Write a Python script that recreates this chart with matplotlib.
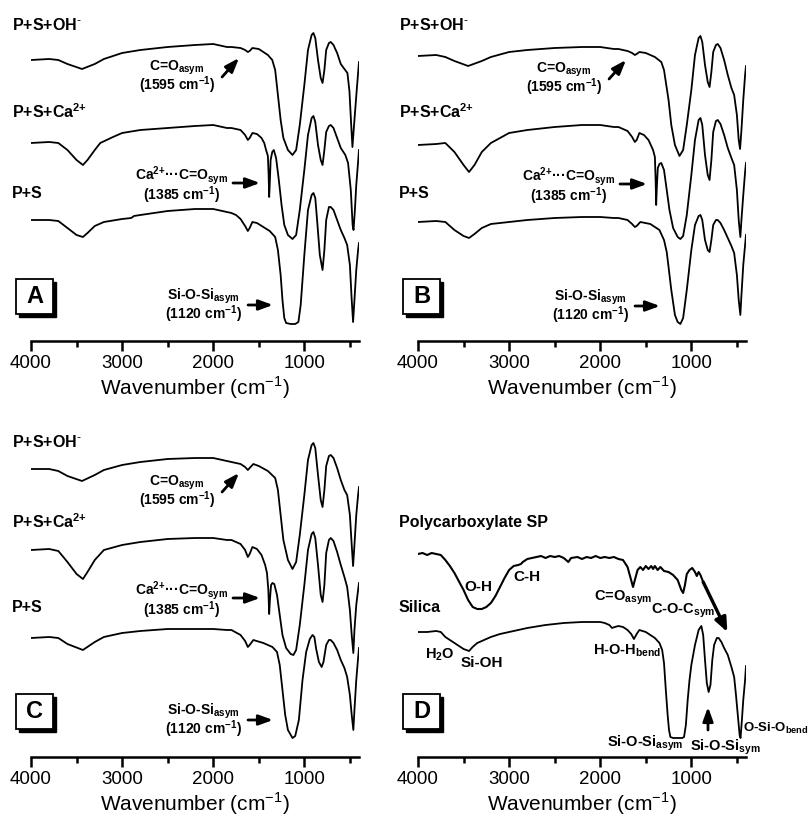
import numpy as np
import matplotlib
matplotlib.use("Agg")
import matplotlib.pyplot as plt
from matplotlib.patches import Rectangle
from matplotlib.ticker import FixedLocator

plt.rcParams['font.family'] = ['Liberation Sans', 'DejaVu Sans']

W, H = 811, 819

# FTIR spectra: (wavenumber cm-1, transmittance in arbitrary stacked units)
A_OH = [(4000, 281), (3800, 282), (3700, 281), (3600, 277), (3440, 272), (3300, 277), (3200, 282),
        (3000, 288), (2800, 291), (2500, 294), (2200, 296), (2000, 297), (1850, 294), (1800, 294),
        (1700, 293), (1650, 291), (1620, 289), (1600, 290), (1570, 293), (1500, 292), (1400, 286),
        (1352, 281), (1320, 271), (1290, 246), (1260, 221), (1230, 203), (1180, 191), (1130, 186),
        (1090, 191), (1050, 216), (1000, 256), (960, 291), (920, 306), (900, 308), (880, 303),
        (850, 281), (820, 263), (800, 258), (780, 271), (760, 291), (730, 298), (710, 299),
        (680, 296), (640, 288), (600, 277), (560, 272), (527, 268), (505, 250), (485, 215),
        (472, 194), (455, 215), (430, 245), (410, 268), (400, 279)]
A_CA = [(4000, 198), (3800, 199), (3700, 198), (3600, 191), (3500, 181), (3430, 176), (3380, 181),
        (3300, 191), (3240, 198), (3100, 204), (3000, 208), (2800, 211), (2500, 213), (2200, 215),
        (2000, 216), (1850, 213), (1800, 213), (1700, 211), (1650, 206), (1620, 201), (1600, 203),
        (1570, 208), (1520, 207), (1470, 203), (1440, 198), (1420, 191), (1400, 185), (1392, 166),
        (1386, 144), (1380, 156), (1370, 181), (1352, 189), (1335, 191), (1310, 183), (1280, 161),
        (1250, 136), (1220, 116), (1180, 106), (1130, 102), (1090, 106), (1050, 131), (1000, 171),
        (960, 206), (920, 223), (900, 225), (880, 219), (850, 196), (820, 181), (800, 176),
        (780, 191), (760, 209), (730, 215), (710, 216), (680, 213), (640, 203), (600, 193),
        (550, 186), (520, 178), (490, 151), (470, 116), (460, 111), (445, 131), (430, 156),
        (410, 179), (400, 191)]
A_PS = [(4000, 121), (3800, 121), (3700, 120), (3600, 113), (3500, 106), (3430, 104), (3380, 108),
        (3300, 115), (3200, 119), (3000, 122), (2900, 123), (2870, 125), (2800, 126), (2500, 130),
        (2200, 132), (2000, 132), (1850, 129), (1800, 128), (1750, 126), (1700, 122), (1650, 115),
        (1620, 110), (1600, 113), (1570, 119), (1520, 118), (1450, 114), (1380, 110), (1320, 104),
        (1290, 91), (1260, 66), (1240, 41), (1220, 23), (1200, 18), (1150, 17), (1100, 17),
        (1065, 19), (1040, 36), (1000, 86), (960, 131), (920, 146), (900, 148), (880, 143),
        (860, 121), (830, 86), (800, 71), (780, 91), (760, 121), (730, 134), (710, 134),
        (680, 131), (640, 121), (600, 111), (560, 103), (530, 96), (500, 76), (480, 41),
        (465, 19), (450, 41), (430, 71), (410, 91), (400, 98)]

B_OH = [(4000, 285), (3800, 286), (3700, 284), (3600, 280), (3450, 275), (3300, 280), (3200, 284),
        (3000, 289), (2800, 291), (2500, 293), (2200, 294), (2000, 294), (1850, 292), (1800, 292),
        (1700, 290), (1650, 288), (1620, 286), (1600, 287), (1570, 289), (1500, 288), (1400, 284),
        (1330, 279), (1300, 271), (1270, 253), (1250, 241), (1220, 216), (1180, 196), (1130, 185),
        (1090, 191), (1050, 216), (1000, 251), (960, 286), (920, 303), (900, 305), (880, 299),
        (850, 276), (820, 259), (800, 254), (780, 269), (760, 289), (730, 296), (710, 297),
        (680, 293), (640, 281), (600, 266), (560, 253), (530, 246), (500, 226), (480, 201),
        (465, 192), (450, 211), (430, 241), (410, 266), (400, 275)]
B_CA = [(4000, 196), (3800, 197), (3700, 198), (3600, 189), (3500, 176), (3440, 169), (3380, 176),
        (3300, 189), (3200, 198), (3000, 208), (2800, 211), (2500, 214), (2200, 216), (2000, 216),
        (1850, 214), (1800, 214), (1700, 210), (1650, 204), (1620, 199), (1600, 201), (1570, 208),
        (1520, 206), (1470, 201), (1420, 191), (1400, 184), (1392, 161), (1386, 136), (1380, 151),
        (1368, 173), (1350, 177), (1330, 178), (1300, 171), (1270, 151), (1240, 131), (1200, 113),
        (1150, 104), (1120, 102), (1090, 105), (1050, 126), (1000, 166), (960, 201), (920, 221),
        (900, 223), (880, 216), (850, 186), (820, 166), (800, 161), (780, 181), (760, 209),
        (730, 220), (710, 221), (680, 217), (640, 206), (600, 193), (560, 183), (530, 176),
        (500, 151), (480, 121), (462, 104), (450, 121), (430, 146), (410, 169), (400, 178)]
B_PS = [(4000, 119), (3800, 120), (3700, 119), (3600, 111), (3500, 105), (3440, 103), (3380, 107),
        (3300, 113), (3200, 117), (3000, 119), (2800, 121), (2500, 123), (2200, 124), (2000, 124),
        (1850, 123), (1800, 123), (1700, 121), (1650, 117), (1620, 114), (1600, 115), (1560, 119),
        (1450, 117), (1350, 111), (1300, 101), (1270, 89), (1250, 74), (1220, 51), (1180, 26),
        (1150, 19), (1120, 17), (1090, 23), (1050, 51), (1000, 91), (960, 116), (920, 125),
        (900, 126), (880, 121), (850, 101), (820, 91), (800, 89), (780, 101), (760, 116),
        (730, 121), (710, 121), (680, 118), (640, 111), (600, 103), (560, 95), (530, 88),
        (500, 66), (480, 41), (462, 26), (450, 46), (430, 76), (410, 96), (400, 106)]

C_OH = [(4000, 288), (3800, 288), (3700, 286), (3600, 281), (3440, 276), (3300, 282), (3200, 287),
        (3000, 292), (2800, 295), (2500, 298), (2200, 299), (2000, 299), (1850, 296), (1800, 295),
        (1700, 293), (1650, 290), (1620, 287), (1600, 289), (1560, 293), (1500, 291), (1400, 286),
        (1320, 279), (1290, 267), (1260, 242), (1230, 217), (1180, 197), (1130, 188), (1090, 195),
        (1050, 222), (1000, 262), (960, 297), (920, 312), (900, 314), (880, 309), (850, 282),
        (820, 257), (800, 250), (780, 267), (760, 291), (730, 301), (710, 302), (680, 299),
        (640, 289), (600, 277), (560, 267), (530, 262), (500, 242), (480, 212), (465, 191),
        (450, 212), (430, 242), (410, 262), (400, 270)]
C_CA = [(4000, 207), (3800, 208), (3700, 206), (3600, 195), (3500, 183), (3430, 178), (3380, 185),
        (3300, 197), (3200, 207), (3000, 212), (2800, 215), (2500, 218), (2200, 219), (2000, 219),
        (1850, 217), (1800, 217), (1700, 213), (1650, 207), (1620, 200), (1600, 203), (1570, 210),
        (1520, 208), (1470, 202), (1430, 192), (1410, 184), (1395, 167), (1386, 143), (1378, 157),
        (1365, 172), (1350, 174), (1330, 173), (1300, 162), (1270, 142), (1240, 122), (1200, 109),
        (1150, 103), (1120, 102), (1090, 107), (1050, 132), (1000, 172), (960, 207), (920, 223),
        (900, 225), (880, 219), (850, 192), (820, 162), (800, 155), (780, 172), (760, 204),
        (730, 217), (710, 219), (680, 216), (640, 205), (600, 192), (560, 180), (530, 170),
        (500, 147), (480, 122), (462, 104), (450, 127), (430, 152), (410, 167), (400, 174)]
C_PS = [(4000, 119), (3800, 120), (3700, 119), (3600, 113), (3430, 107), (3300, 115), (3200, 120),
        (3000, 124), (2800, 126), (2500, 128), (2200, 128), (2000, 128), (1850, 127), (1800, 127),
        (1700, 122), (1650, 116), (1620, 110), (1600, 112), (1560, 117), (1450, 114), (1350, 110),
        (1300, 105), (1270, 92), (1240, 67), (1210, 42), (1180, 27), (1130, 19), (1100, 21),
        (1060, 37), (1020, 77), (980, 105), (940, 118), (910, 122), (890, 120), (870, 108),
        (840, 95), (810, 90), (790, 95), (760, 112), (730, 117), (710, 117), (680, 114),
        (640, 107), (600, 97), (560, 89), (530, 80), (500, 62), (480, 42), (462, 27), (450, 47),
        (430, 77), (410, 99), (400, 109)]

D_SP = [(4000, 203), (3950, 204), (3900, 202), (3850, 204), (3800, 203), (3750, 202), (3700, 197),
        (3650, 191), (3600, 184), (3500, 167), (3450, 157), (3400, 150), (3350, 148), (3300, 148),
        (3250, 150), (3200, 154), (3150, 161), (3100, 170), (3050, 179), (3000, 187), (2950, 191),
        (2900, 192), (2870, 193), (2850, 195), (2800, 198), (2750, 199), (2700, 200), (2650, 201),
        (2600, 199), (2550, 201), (2500, 200), (2450, 201), (2400, 199), (2350, 195), (2320, 199),
        (2250, 200), (2200, 198), (2150, 200), (2100, 199), (2050, 201), (2000, 199), (1950, 200),
        (1900, 199), (1850, 200), (1800, 198), (1750, 197), (1700, 190), (1670, 180), (1640, 170),
        (1620, 177), (1590, 187), (1560, 190), (1530, 187), (1500, 191), (1470, 188), (1440, 191),
        (1420, 188), (1400, 191), (1370, 187), (1340, 190), (1300, 186), (1250, 185), (1200, 182),
        (1150, 177), (1110, 167), (1090, 164), (1070, 172), (1050, 183), (1020, 187), (990, 189),
        (960, 185), (940, 181), (920, 185), (900, 182), (870, 175)]
D_SI = [(4000, 125), (3900, 125), (3800, 126), (3750, 125), (3700, 120), (3650, 117), (3600, 114),
        (3550, 111), (3500, 108), (3440, 106), (3400, 110), (3350, 114), (3300, 116), (3200, 120),
        (3100, 123), (3000, 125), (2800, 129), (2600, 132), (2400, 134), (2200, 135), (2000, 135),
        (1950, 134), (1900, 132), (1870, 129), (1840, 130), (1800, 131), (1750, 130), (1700, 127),
        (1660, 123), (1630, 118), (1600, 123), (1570, 127), (1500, 125), (1450, 122), (1400, 119),
        (1350, 114), (1320, 107), (1300, 94), (1280, 67), (1260, 42), (1245, 27), (1230, 20),
        (1200, 19), (1150, 19), (1100, 19), (1080, 20), (1060, 32), (1040, 57), (1020, 77),
        (1000, 92), (960, 112), (920, 127), (890, 131), (870, 122), (850, 97), (830, 74),
        (810, 65), (790, 72), (770, 97), (750, 112), (720, 119), (700, 119), (670, 115),
        (640, 109), (600, 102), (560, 90), (530, 80), (510, 62), (490, 42), (470, 22),
        (460, 19), (445, 37), (430, 57), (410, 77), (400, 91)]
D_SP_TAIL = [(870, 175), (605, 125)]

SAMPLE_LABELS = [r"P+S+OH$^{\text{-}}$", r"P+S+Ca$^{\mathregular{2{+}}}$", "P+S"]
PEAK_NOTES = [r"C=O$_{\mathregular{asym}}$" + "\n" + r"(1595 cm$^{\mathregular{-1}}$)",
              "Ca$^{\\mathregular{2{+}}}$\u00b7\u00b7\u00b7C=O$_{\\mathregular{sym}}$" + "\n"
              + r"(1385 cm$^{\mathregular{-1}}$)",
              r"Si-O-Si$_{\mathregular{asym}}$" + "\n" + r"(1120 cm$^{\mathregular{-1}}$)"]
MAJOR_TICKS = [4000, 3000, 2000, 1000]
MINOR_TICKS = [3500, 2500, 1500, 500]

fig = plt.figure(figsize=(W / 100, H / 100), dpi=100)


def make_axes(left, top, bottom):
    ax = fig.add_axes([left / W, 1 - bottom / H, 328 / W, (bottom - top) / H])
    ax.patch.set_alpha(0)
    ax.set_xlim(4000, 400)
    ax.set_ylim(0, bottom - top)
    for s in ['left', 'right', 'top']:
        ax.spines[s].set_visible(False)
    ax.spines['bottom'].set_linewidth(1.8)
    ax.set_yticks([])
    ax.xaxis.set_major_locator(FixedLocator(MAJOR_TICKS))
    ax.xaxis.set_minor_locator(FixedLocator(MINOR_TICKS))
    ax.tick_params(axis='x', which='major', direction='out', length=7, width=1.8,
                   labelsize=13.5, pad=3)
    ax.tick_params(axis='x', which='minor', direction='out', length=4, width=1.8)
    ax.set_xlabel(r"Wavenumber (cm$^{\mathregular{-1}}$)", fontsize=15, labelpad=2)
    return ax


def spectrum(ax, pts, lw=1.3):
    arr = np.array(pts, dtype=float)
    ax.plot(arr[:, 0], arr[:, 1], color='k', lw=lw, solid_joinstyle='round')


def arrow(ax, tail, head):
    ax.annotate("", xy=head, xytext=tail,
                arrowprops=dict(arrowstyle='-|>,head_length=0.6,head_width=0.22', lw=2,
                                color='k', mutation_scale=14, shrinkA=0, shrinkB=0))


def note(ax, x, y, s, size=10, ha='center', ls=0.85):
    ax.text(x, y, s, ha=ha, va='center', fontsize=size, fontweight='bold',
            multialignment='center', linespacing=ls)


def panel_box(letter, x, y):
    w, h = 37, 35
    fig.add_artist(Rectangle(((x + 3) / W, 1 - (y + h + 3) / H), w / W, h / H,
                             transform=fig.transFigure, fc='k', ec='k', lw=1))
    fig.add_artist(Rectangle((x / W, 1 - (y + h) / H), w / W, h / H,
                             transform=fig.transFigure, fc='w', ec='k', lw=1.3))
    fig.text((x + w / 2) / W, 1 - (y + h / 2) / H, letter, ha='center', va='center',
             fontsize=17, fontweight='bold')


def triple_panel(ax, spectra, label_y, ann_y):
    for pts in spectra:
        spectrum(ax, pts)
    for lab, yy in zip(SAMPLE_LABELS, label_y):
        note(ax, 4209, yy, lab, size=11.5, ha='left')
    y1, y2, y3 = ann_y
    note(ax, 2397, y1 - 8, PEAK_NOTES[0])
    arrow(ax, (1903, y1 - 8), (1717, y1 + 11))
    note(ax, 2345, y2 - 8, PEAK_NOTES[1])
    arrow(ax, (1783, y2 - 6), (1486, y2 - 6))
    note(ax, 2112, y3 - 8, PEAK_NOTES[2])
    arrow(ax, (1618, y3 - 7), (1344, y3 - 7))


axA = make_axes(31, 0, 341)
triple_panel(axA, [A_OH, A_CA, A_PS], [316, 229, 148], [272, 164, 43])
axB = make_axes(418, 0, 341)
triple_panel(axB, [B_OH, B_CA, B_PS], [316, 229, 148], [270, 163, 42])
axC = make_axes(31, 410, 757)
triple_panel(axC, [C_OH, C_CA, C_PS], [315, 235, 149], [273, 165, 44])

axD = make_axes(418, 410, 757)
spectrum(axD, D_SP, lw=1.5)
spectrum(axD, D_SI)
tail = np.array(D_SP_TAIL, dtype=float)
axD.annotate("", xy=tail[1], xytext=tail[0],
             arrowprops=dict(arrowstyle='-|>,head_length=0.6,head_width=0.25', lw=2.4,
                             color='k', mutation_scale=14, shrinkA=0, shrinkB=0))
note(axD, 4209, 235, "Polycarboxylate SP", size=11.5, ha='left')
note(axD, 4209, 149, "Silica", size=11.5, ha='left')
note(axD, 3341, 170, "O-H", size=11)
note(axD, 2803, 180, "C-H", size=11)
note(axD, 1750, 159, r"C=O$_{\mathregular{asym}}$", size=10.5)
note(axD, 1091, 146, r"C-O-C$_{\mathregular{sym}}$", size=10.5)
note(axD, 3759, 102, r"H$_{\mathregular{2}}$O", size=10.5)
note(axD, 3297, 94, "Si-OH", size=11)
note(axD, 1706, 106, r"H-O-H$_{\mathregular{bend}}$", size=10.5)
note(axD, 1508, 14, r"Si-O-Si$_{\mathregular{asym}}$", size=10.5)
note(axD, 630, 10, r"Si-O-Si$_{\mathregular{sym}}$", size=10.5)
note(axD, 430, 29, r"O-Si-O$_{\mathregular{bend}}$", size=9.5, ha='left')
arrow(axD, (817, 27), (817, 50))

panel_box("A", 16, 279)
panel_box("B", 403, 279)
panel_box("C", 16, 694)
panel_box("D", 403, 694)

fig.savefig("out.png", dpi=100)
